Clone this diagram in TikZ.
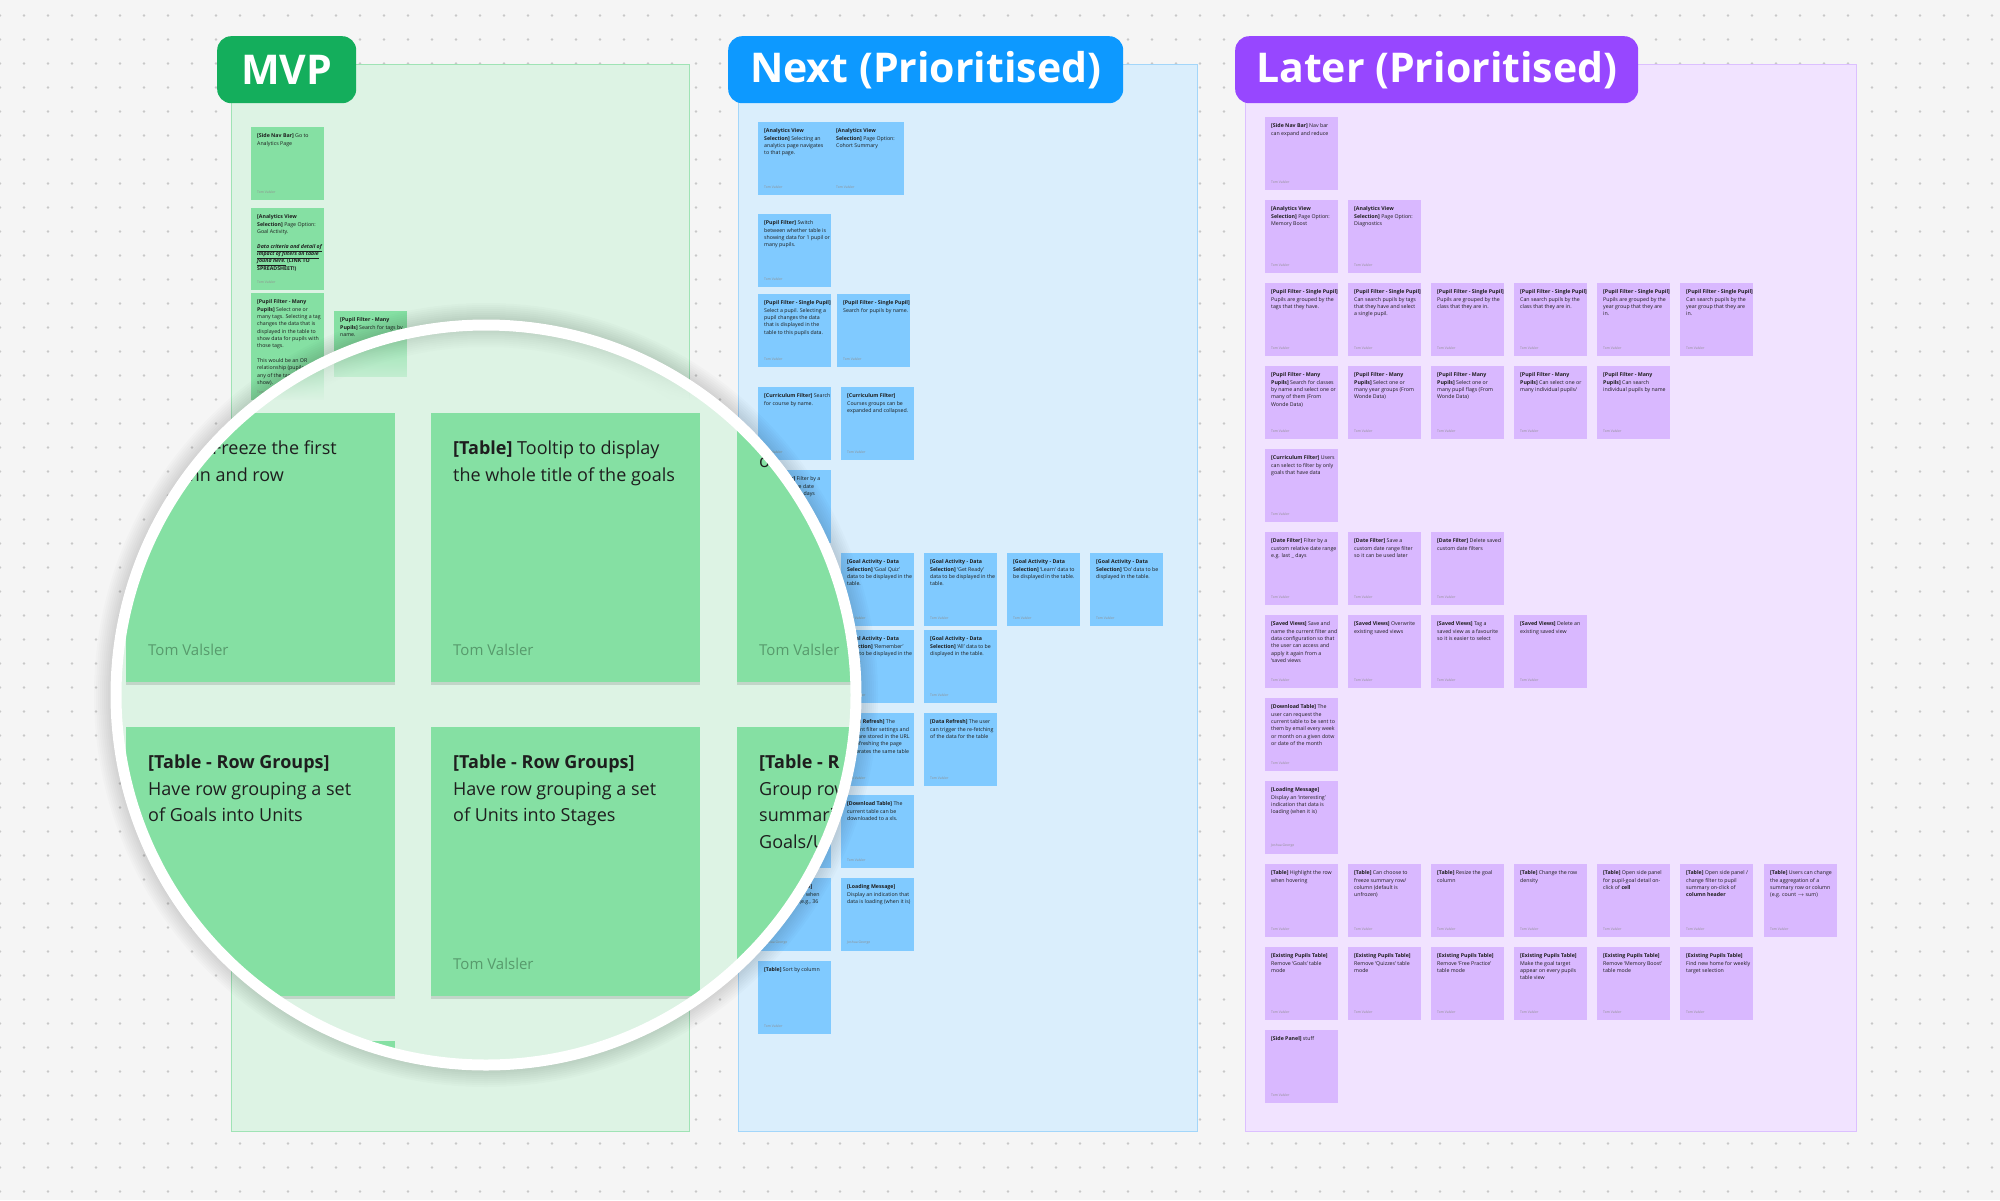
\documentclass[tikz,border=0pt]{standalone}
\usepackage{fontspec}
\setmainfont{Open Sans}
\usetikzlibrary{positioning,fadings,shadows}

\definecolor{canvas}{HTML}{F5F5F5}
\definecolor{dotc}{HTML}{C8C8C8}
\definecolor{ink}{HTML}{1E1E1E}
\definecolor{mvpbg}{HTML}{DDF3E4}
\definecolor{mvpline}{HTML}{9FE3B5}
\definecolor{mvpnote}{HTML}{85E0A3}
\definecolor{mvptab}{HTML}{14AE5C}
\definecolor{mvpfoot}{HTML}{579A6C}
\definecolor{nextbg}{HTML}{DAEEFC}
\definecolor{nextline}{HTML}{A3D6FA}
\definecolor{nextnote}{HTML}{80CAFF}
\definecolor{nexttab}{HTML}{0D99FF}
\definecolor{laterbg}{HTML}{F1E3FF}
\definecolor{laterline}{HTML}{DCC0FF}
\definecolor{laternote}{HTML}{D9B8FF}
\definecolor{latertab}{HTML}{9747FF}

\tikzfading[name=lensfade, top color=transparent!100, bottom color=transparent!0]

\tikzset{
  board/.style={draw=#1line, fill=#1bg, line width=1.2pt, inner sep=0pt, anchor=north west},
  tab/.style={fill=#1tab, text=white, rounded corners=14pt, minimum height=67pt, inner xsep=0pt,
    font=\fontsize{41}{49}\selectfont\bfseries, anchor=north west},
  postit/.style={fill=#1note, minimum width=73pt, minimum height=73pt, inner sep=0pt, anchor=north west},
  posttext/.style={font=\fontsize{5.25}{7.35}\selectfont, text=ink, align=left, inner sep=0pt, anchor=north west},
  postfoot/.style={font=\fontsize{3.4}{4}\selectfont, text=ink!50, inner sep=0pt, anchor=south west},
  bignote/.style={fill=mvpnote, minimum width=269pt, minimum height=269pt, inner sep=0pt, anchor=north west,
    drop shadow={shadow xshift=0pt, shadow yshift=-3pt, opacity=.12, fill=black}},
  bigtext/.style={font=\fontsize{18}{26.5}\selectfont, text=ink, align=left, inner sep=0pt, anchor=north west},
  bigfoot/.style={font=\fontsize{15}{18}\selectfont, text=mvpfoot, inner sep=0pt, anchor=south west},
}

% sticky: name, x, y, style, text, author
\newcommand{\postit}[6]{%
  \node[#4] (#1) at (#2,#3) {};
  \node[posttext] (#1t) at ([shift={(6,6.5)}]#1.north west) {#5};
  \node[postfoot] (#1f) at ([shift={(6,-7)}]#1.south west) {#6};
}
% magnified sticky: name, x, y, text, author
\newcommand{\bigpostit}[5]{%
  \node[bignote] (#1) at (#2,#3) {};
  \node[bigtext] (#1t) at ([shift={(22,28)}]#1.north west) {#4};
  \node[bigfoot] (#1f) at ([shift={(22,-27)}]#1.south west) {#5};
}

\begin{document}
\begin{tikzpicture}[x=1pt, y=-1pt]
  \useasboundingbox (0,0) rectangle (2000,1200);
  \fill[canvas] (0,0) rectangle (2000,1200);
  \foreach \x in {0,24,...,2000}
    \foreach \y in {15.5,39.5,...,1200}
      \fill[dotc] (\x,\y) circle[radius=1.3pt];

  % columns
  \node[board=mvp, minimum width=458pt, minimum height=1067pt] (cmvp) at (231,64) {};
  \node[board=next, minimum width=459pt, minimum height=1067pt] (cnext) at (738,64) {};
  \node[board=later, minimum width=611pt, minimum height=1067pt] (clater) at (1245,64) {};
  \node[tab=mvp, minimum width=139pt] (tmvp) at (217,36) {MVP};
  \node[tab=next, minimum width=395pt] (tnext) at (728,36) {Next (Prioritised)};
  \node[tab=later, minimum width=403pt] (tlater) at (1235,36) {Later (Prioritised)};

  % MVP
  \postit{m1}{251}{127}{postit=mvp}{\textbf{[Side Nav Bar]} Go to\\Analytics Page}{Tom Valsler}
  \postit{m2}{251}{208}{postit=mvp, minimum height=82pt}{\textbf{[Analytics View}\\\textbf{Selection]} Page Option:\\Goal Activity.\\[7.35pt]\textbf{\textit{\underline{Data criteria and detail of}}}\\\textbf{\textit{\underline{impact of filters on table}}}\\\textbf{\textit{\underline{found here.}} (LINK TO}\\\textbf{SPREADSHEET!)}}{Tom Valsler}
  \postit{m3}{251}{293}{postit=mvp, minimum height=107pt}{\textbf{[Pupil Filter - Many}\\\textbf{Pupils]} Select one or\\many tags. Selecting a tag\\changes the data that is\\displayed in the table to\\show data for pupils with\\those tags.\\[7.35pt]This would be an OR\\relationship (pupils with\\any of the tags will\\show).}{Tom Valsler}
  \postit{m4}{334}{311}{postit=mvp, minimum height=66pt}{\textbf{[Pupil Filter - Many}\\\textbf{Pupils]} Search for tags by\\name.}{}

  % Next
  \postit{n1}{758}{122}{postit=next, minimum width=72pt}{\textbf{[Analytics View}\\\textbf{Selection]} Selecting an\\analytics page navigates\\to that page.}{Tom Valsler}
  \postit{n2}{830}{122}{postit=next, minimum width=74pt}{\textbf{[Analytics View}\\\textbf{Selection]} Page Option:\\Cohort Summary}{Tom Valsler}
  \postit{n3}{758}{214}{postit=next}{\textbf{[Pupil Filter]} Switch\\between whether table is\\showing data for 1 pupil or\\many pupils.}{Tom Valsler}
  \postit{n4}{758}{294}{postit=next}{\textbf{[Pupil Filter - Single Pupil]}\\Select a pupil. Selecting a\\pupil changes the data\\that is displayed in the\\table to this pupils data.}{Tom Valsler}
  \postit{n5}{837}{294}{postit=next}{\textbf{[Pupil Filter - Single Pupil]}\\Search for pupils by name.}{Tom Valsler}
  \postit{n6}{758}{387}{postit=next}{\textbf{[Curriculum Filter]} Search\\for course by name.}{Tom Valsler}
  \postit{n7}{841}{387}{postit=next}{\textbf{[Curriculum Filter]}\\Courses groups can be\\expanded and collapsed.}{Tom Valsler}
  \postit{n8}{758}{470}{postit=next}{\textbf{[Date Filter]} Filter by a\\custom relative date\\range e.g. last \_ days}{Tom Valsler}
  \postit{n9}{841}{553}{postit=next}{\textbf{[Goal Activity - Data}\\\textbf{Selection]} `Goal Quiz'\\data to be displayed in the\\table.}{Tom Valsler}
  \postit{n10}{924}{553}{postit=next}{\textbf{[Goal Activity - Data}\\\textbf{Selection]} `Get Ready'\\data to be displayed in the\\table.}{Tom Valsler}
  \postit{n11}{1007}{553}{postit=next}{\textbf{[Goal Activity - Data}\\\textbf{Selection]} `Learn' data to\\be displayed in the table.}{Tom Valsler}
  \postit{n12}{1090}{553}{postit=next}{\textbf{[Goal Activity - Data}\\\textbf{Selection]} `Do' data to be\\displayed in the table.}{Tom Valsler}
  \postit{n13}{841}{630}{postit=next}{\textbf{[Goal Activity - Data}\\\textbf{Selection]} `Remember'\\data to be displayed in the\\table.}{Tom Valsler}
  \postit{n14}{924}{630}{postit=next}{\textbf{[Goal Activity - Data}\\\textbf{Selection]} `All' data to be\\displayed in the table.}{Tom Valsler}
  \postit{n15}{841}{713}{postit=next}{\textbf{[Data Refresh]} The\\current filter settings and\\sort are stored in the URL\\so refreshing the page\\generates the same table}{Tom Valsler}
  \postit{n16}{924}{713}{postit=next}{\textbf{[Data Refresh]} The user\\can trigger the re-fetching\\of the data for the table}{Tom Valsler}
  \postit{n17}{758}{795}{postit=next}{}{}
  \postit{n18}{841}{795}{postit=next}{\textbf{[Download Table]} The\\current table can be\\downloaded to a xls.}{Tom Valsler}
  \postit{n19}{758}{878}{postit=next}{\textbf{[Loading Message]}\\Show a message when\\a lot is loaded (e.g., 36\\columns)}{Joshua George}
  \postit{n20}{841}{878}{postit=next}{\textbf{[Loading Message]}\\Display an indication that\\data is loading (when it is)}{Joshua George}
  \postit{n21}{758}{961}{postit=next}{\textbf{[Table]} Sort by column}{Tom Valsler}

  % Later
  \postit{l1}{1265}{117}{postit=later}{\textbf{[Side Nav Bar]} Nav bar\\can expand and reduce}{Tom Valsler}
  \postit{l2}{1265}{200}{postit=later}{\textbf{[Analytics View}\\\textbf{Selection]} Page Option:\\Memory Boost}{Tom Valsler}
  \postit{l3}{1348}{200}{postit=later}{\textbf{[Analytics View}\\\textbf{Selection]} Page Option:\\Diagnostics}{Tom Valsler}
  \postit{l4}{1265}{283}{postit=later}{\textbf{[Pupil Filter - Single Pupil]}\\Pupils are grouped by the\\tags that they have.}{Tom Valsler}
  \postit{l5}{1348}{283}{postit=later}{\textbf{[Pupil Filter - Single Pupil]}\\Can search pupils by tags\\that they have and select\\a single pupil.}{Tom Valsler}
  \postit{l6}{1431}{283}{postit=later}{\textbf{[Pupil Filter - Single Pupil]}\\Pupils are grouped by the\\class that they are in.}{Tom Valsler}
  \postit{l7}{1514}{283}{postit=later}{\textbf{[Pupil Filter - Single Pupil]}\\Can search pupils by the\\class that they are in.}{Tom Valsler}
  \postit{l8}{1597}{283}{postit=later}{\textbf{[Pupil Filter - Single Pupil]}\\Pupils are grouped by the\\year group that they are\\in.}{Tom Valsler}
  \postit{l9}{1680}{283}{postit=later}{\textbf{[Pupil Filter - Single Pupil]}\\Can search pupils by the\\year group that they are\\in.}{Tom Valsler}
  \postit{l10}{1265}{366}{postit=later}{\textbf{[Pupil Filter - Many}\\\textbf{Pupils]} Search for classes\\by name and select one or\\many of them (From\\Wonde Data)}{Tom Valsler}
  \postit{l11}{1348}{366}{postit=later}{\textbf{[Pupil Filter - Many}\\\textbf{Pupils]} Select one or\\many year groups (From\\Wonde Data)}{Tom Valsler}
  \postit{l12}{1431}{366}{postit=later}{\textbf{[Pupil Filter - Many}\\\textbf{Pupils]} Select one or\\many pupil flags (From\\Wonde Data)}{Tom Valsler}
  \postit{l13}{1514}{366}{postit=later}{\textbf{[Pupil Filter - Many}\\\textbf{Pupils]} Can select one or\\many individual pupils/}{Tom Valsler}
  \postit{l14}{1597}{366}{postit=later}{\textbf{[Pupil Filter - Many}\\\textbf{Pupils]} Can search\\individual pupils by name}{Tom Valsler}
  \postit{l15}{1265}{449}{postit=later}{\textbf{[Curriculum Filter]} Users\\can select to filter by only\\goals that have data}{Tom Valsler}
  \postit{l16}{1265}{532}{postit=later}{\textbf{[Date Filter]} Filter by a\\custom relative date range\\e.g. last \_ days}{Tom Valsler}
  \postit{l17}{1348}{532}{postit=later}{\textbf{[Date Filter]} Save a\\custom date range filter\\so it can be used later}{Tom Valsler}
  \postit{l18}{1431}{532}{postit=later}{\textbf{[Date Filter]} Delete saved\\custom date filters}{Tom Valsler}
  \postit{l19}{1265}{615}{postit=later}{\textbf{[Saved Views]} Save and\\name the current filter and\\data configuration so that\\the user can access and\\apply it again from a\\`saved views}{Tom Valsler}
  \postit{l20}{1348}{615}{postit=later}{\textbf{[Saved Views]} Overwrite\\existing saved views}{Tom Valsler}
  \postit{l21}{1431}{615}{postit=later}{\textbf{[Saved Views]} Tag a\\saved view as a favourite\\so it is easier to select}{Tom Valsler}
  \postit{l22}{1514}{615}{postit=later}{\textbf{[Saved Views]} Delete an\\existing saved view}{Tom Valsler}
  \postit{l23}{1265}{698}{postit=later}{\textbf{[Download Table]} The\\user can request the\\current table to be sent to\\them by email every week\\or month on a given dotw\\or date of the month}{Tom Valsler}
  \postit{l24}{1265}{781}{postit=later}{\textbf{[Loading Message]}\\Display an `interesting'\\indication that data is\\loading (when it is)}{Joshua George}
  \postit{l25}{1265}{864}{postit=later}{\textbf{[Table]} Highlight the row\\when hovering}{Tom Valsler}
  \postit{l26}{1348}{864}{postit=later}{\textbf{[Table]} Can choose to\\freeze summary row/\\column (default is\\unfrozen)}{Tom Valsler}
  \postit{l27}{1431}{864}{postit=later}{\textbf{[Table]} Resize the goal\\column}{Tom Valsler}
  \postit{l28}{1514}{864}{postit=later}{\textbf{[Table]} Change the row\\density}{Tom Valsler}
  \postit{l29}{1597}{864}{postit=later}{\textbf{[Table]} Open side panel\\for pupil-goal detail on-\\click of \textbf{cell}}{Tom Valsler}
  \postit{l30}{1680}{864}{postit=later}{\textbf{[Table]} Open side panel /\\change filter to pupil\\summary on-click of\\\textbf{column header}}{Tom Valsler}
  \postit{l31}{1764}{864}{postit=later}{\textbf{[Table]} Users can change\\the aggregation of a\\summary row or column\\(e.g. count $\rightarrow$ sum)}{Tom Valsler}
  \postit{l32}{1265}{947}{postit=later}{\textbf{[Existing Pupils Table]}\\Remove `Goals' table\\mode}{Tom Valsler}
  \postit{l33}{1348}{947}{postit=later}{\textbf{[Existing Pupils Table]}\\Remove `Quizzes' table\\mode}{Tom Valsler}
  \postit{l34}{1431}{947}{postit=later}{\textbf{[Existing Pupils Table]}\\Remove `Free Practice'\\table mode}{Tom Valsler}
  \postit{l35}{1514}{947}{postit=later}{\textbf{[Existing Pupils Table]}\\Make the goal target\\appear on every pupils\\table view}{Tom Valsler}
  \postit{l36}{1597}{947}{postit=later}{\textbf{[Existing Pupils Table]}\\Remove `Memory Boost'\\table mode}{Tom Valsler}
  \postit{l37}{1680}{947}{postit=later}{\textbf{[Existing Pupils Table]}\\Find new home for weekly\\target selection}{Tom Valsler}
  \postit{l38}{1265}{1030}{postit=later}{\textbf{[Side Panel]} stuff}{Tom Valsler}

  % magnifier
  \coordinate (lens) at (486,695);
  \foreach \w in {4,8,...,44}
    \draw[black, opacity=.014, line width=\w pt] (lens) circle[radius=370pt];
  \begin{scope}
    \clip (lens) circle[radius=370pt];
    \fill[mvpbg] (100,400) rectangle (880,1080);
    \fill[mvpbg, path fading=lensfade] (100,318) rectangle (880,401);
    \bigpostit{za}{126}{413}{\textbf{[Table]} Freeze the first\\column and row}{Tom Valsler}
    \bigpostit{zb}{431}{413}{\textbf{[Table]} Tooltip to display\\the whole title of the goals}{Tom Valsler}
    \bigpostit{zc}{737}{413}{\mbox{}\\of}{Tom Valsler}
    \bigpostit{zd}{126}{727}{\textbf{[Table - Row Groups]}\\Have row grouping a set\\of Goals into Units}{}
    \bigpostit{ze}{431}{727}{\textbf{[Table - Row Groups]}\\Have row grouping a set\\of Units into Stages}{Tom Valsler}
    \bigpostit{zf}{737}{727}{\textbf{[Table - R}\\Group row\\summari\\Goals/U}{}
    \bigpostit{zg}{126}{1041}{}{}
  \end{scope}
  \draw[white, line width=11pt] (lens) circle[radius=370pt];
\end{tikzpicture}
\end{document}
